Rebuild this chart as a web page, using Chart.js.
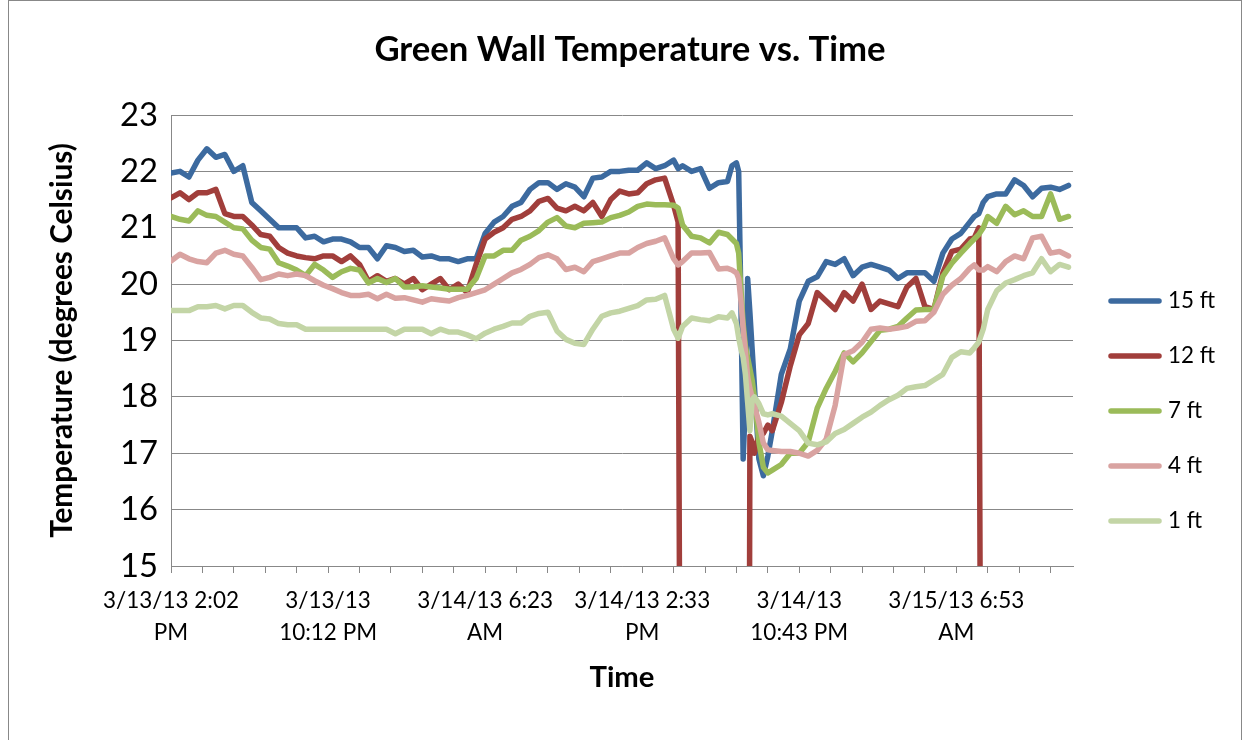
<!DOCTYPE html>
<html><head><meta charset="utf-8">
<script src="https://cdn.jsdelivr.net/npm/chart.js@4.4.1/dist/chart.umd.min.js"></script>
<style>html,body{margin:0;padding:0;background:#fff}</style>
</head><body>
<canvas id="c" width="1250" height="740" style="display:block;width:1250px;height:740px"></canvas>
<script>
// time index: 1 unit = 14 minutes (ticks every 7 units, labels every 35 units)
const timeIndex = [0,2,4,6,8,10,12,14,16,18,20,22,24,26,28,30,32,34,36,38,40,42,44,46,48,50,52,54,56,58,60,62,64,66,68,70,72,74,76,78,80,82,84,86,88,90,92,94,96,98,100,102,104,106,108,110,112,113,114,116,118,120,122,124,125,126,126.5,127,127.5,128,128.5,129,129.5,130,131,132,133,134,136,138,140,142,144,146,148,150,152,154,156,158,160,162,164,166,168,170,172,174,176,178,179,180,181,182,184,186,188,190,192,194,196,198,200];
const tickLabels = [['3/13/13 2:02','PM'],['3/13/13','10:12 PM'],['3/14/13 6:23','AM'],['3/14/13 2:33','PM'],['3/14/13','10:43 PM'],['3/15/13 6:53','AM']];
const chartTitle = 'Green Wall Temperature vs. Time';
const xTitle = 'Time';
const yTitle = 'Temperature (degrees Celsius)';
const seriesNames = ['15 ft','12 ft','7 ft','4 ft','1 ft'];
const ft15 = [21.97,22.0,21.9,22.2,22.4,22.25,22.3,22.0,22.1,21.45,21.3,21.15,21.0,21.0,21.0,20.82,20.85,20.75,20.8,20.8,20.75,20.65,20.65,20.45,20.68,20.65,20.58,20.6,20.48,20.5,20.45,20.45,20.4,20.45,20.45,20.9,21.1,21.2,21.38,21.45,21.68,21.8,21.8,21.68,21.78,21.72,21.55,21.88,21.9,22.0,22.0,22.02,22.02,22.15,22.05,22.1,22.2,22.05,22.1,22.0,22.05,21.7,21.8,21.82,22.1,22.15,22.0,19.7,16.9,17.9,20.1,19.5,18.85,18.2,16.9,16.6,16.95,17.4,18.4,18.85,19.7,20.05,20.13,20.4,20.35,20.45,20.15,20.3,20.35,20.3,20.25,20.1,20.2,20.2,20.2,20.05,20.55,20.8,20.9,21.1,21.2,21.25,21.45,21.55,21.6,21.6,21.85,21.75,21.55,21.7,21.72,21.68,21.75];
const ft12 = [21.53,21.62,21.5,21.62,21.62,21.68,21.25,21.2,21.2,21.05,20.88,20.85,20.65,20.55,20.5,20.47,20.45,20.5,20.5,20.4,20.5,20.35,20.05,20.15,20.05,20.1,20.0,20.1,19.9,20.0,20.1,19.9,20.0,19.85,20.35,20.8,20.92,21.0,21.15,21.2,21.3,21.47,21.52,21.35,21.3,21.38,21.3,21.45,21.2,21.5,21.65,21.6,21.62,21.78,21.85,21.88,21.4,21.1,0,0,0,0,0,0,0,0,0,0,0,0,0,17.3,17.2,17.0,17.3,17.35,17.5,17.4,17.9,18.55,19.1,19.3,19.85,19.7,19.55,19.85,19.7,20.0,19.55,19.7,19.65,19.6,19.95,20.1,19.6,19.55,20.2,20.58,20.62,20.8,20.82,21.0,0,0,0,0,0,0,0,0,0,0,0];
const ft7 = [21.2,21.15,21.12,21.3,21.22,21.2,21.1,21.0,20.98,20.78,20.65,20.62,20.38,20.32,20.25,20.15,20.35,20.25,20.12,20.22,20.28,20.25,20.02,20.1,20.03,20.1,19.95,19.95,19.97,19.95,19.93,19.91,19.91,19.91,20.1,20.5,20.5,20.6,20.6,20.78,20.85,20.95,21.1,21.18,21.03,21.0,21.08,21.09,21.1,21.18,21.22,21.28,21.38,21.42,21.41,21.41,21.4,21.35,21.05,20.85,20.82,20.73,20.92,20.88,20.8,20.72,20.55,19.9,19.3,18.9,18.7,18.5,18.3,18.0,17.2,16.75,16.65,16.7,16.8,17.0,17.0,17.2,17.8,18.15,18.45,18.78,18.62,18.78,18.98,19.18,19.2,19.25,19.4,19.54,19.55,19.55,20.14,20.37,20.55,20.72,20.8,20.88,21.0,21.2,21.08,21.38,21.23,21.3,21.2,21.2,21.6,21.15,21.2];
const ft4 = [20.41,20.53,20.45,20.4,20.38,20.55,20.6,20.53,20.5,20.3,20.08,20.12,20.18,20.15,20.18,20.15,20.06,19.98,19.92,19.85,19.8,19.8,19.82,19.74,19.82,19.75,19.76,19.72,19.68,19.74,19.72,19.7,19.76,19.8,19.85,19.9,20.0,20.1,20.2,20.26,20.35,20.47,20.52,20.45,20.26,20.3,20.22,20.4,20.45,20.5,20.55,20.55,20.65,20.72,20.76,20.82,20.45,20.34,20.4,20.55,20.55,20.56,20.27,20.28,20.25,20.2,20.1,19.7,19.2,18.8,18.35,18.15,18.0,17.85,17.55,17.18,17.06,17.05,17.03,17.03,17.0,16.95,17.05,17.25,17.85,18.75,18.82,18.97,19.2,19.22,19.2,19.22,19.25,19.34,19.35,19.5,19.82,19.98,20.1,20.28,20.34,20.25,20.25,20.31,20.22,20.4,20.5,20.45,20.82,20.85,20.55,20.58,20.5];
const ft1 = [19.53,19.53,19.53,19.6,19.6,19.62,19.56,19.62,19.62,19.5,19.4,19.38,19.3,19.28,19.28,19.2,19.2,19.2,19.2,19.2,19.2,19.2,19.2,19.2,19.2,19.12,19.2,19.2,19.2,19.12,19.2,19.15,19.15,19.1,19.03,19.13,19.2,19.25,19.31,19.31,19.43,19.48,19.5,19.17,19.02,18.95,18.93,19.2,19.43,19.49,19.52,19.57,19.62,19.72,19.73,19.8,19.2,19.04,19.25,19.4,19.37,19.35,19.42,19.4,19.49,19.3,19.05,18.85,18.7,18.4,17.9,17.4,17.95,18.0,17.88,17.7,17.68,17.7,17.66,17.53,17.4,17.18,17.15,17.2,17.35,17.42,17.53,17.64,17.73,17.85,17.95,18.03,18.15,18.18,18.2,18.3,18.4,18.7,18.8,18.78,18.87,18.97,19.2,19.55,19.88,20.02,20.08,20.15,20.2,20.45,20.22,20.35,20.3];
const seriesValues = [ft15, ft12, ft7, ft4, ft1];
const seriesColors = ['#3C6A9F','#A13E3B','#9BBB59','#D9A3A1','#C3D5A6'];
const yMin = 15, yMax = 23, xMax = 201, tickEvery = 7, labelEvery = 35;

const FAMILY = 'Lato, "Open Sans", sans-serif';
const mctx = document.createElement('canvas').getContext('2d');
function fitSize(text, weight, target){ mctx.font = weight + ' 100px ' + FAMILY; return 100*target/mctx.measureText(text).width; }
const titleSize = fitSize(chartTitle,'bold',512);
const yTitleSize = fitSize(yTitle,'bold',395);
const xTitleSize = fitSize(xTitle,'bold',65);
const yTickSize = fitSize('23','normal',38);
const xTickSize = fitSize('3/13/13 2:02','normal',136);
const legendSize = fitSize('15 ft','normal',47);

const AREA = {left:171, right:1073, top:115, bottom:566};
const padLeft = 62 - 0.6*yTitleSize;
const xScaleBottom = 678 + 0.6*xTitleSize;

const frame = {
  id:'frame',
  beforeDraw(chart){ const c=chart.ctx; c.save(); c.fillStyle='#fff'; c.fillRect(0,0,chart.width,chart.height); c.restore(); },
  afterDraw(chart){
    const c = chart.ctx; c.save();
    c.strokeStyle='#888'; c.lineWidth=1; c.strokeRect(8.5,0.5,1233,760);
    c.fillStyle='#000'; c.textAlign='center'; c.textBaseline='middle';
    c.font = 'bold '+titleSize.toFixed(1)+'px '+FAMILY;
    c.fillText(chartTitle, 630, 50);
    chart.data.datasets.forEach((ds,i)=>{
      const y = 301 + i*55;
      c.strokeStyle = ds.borderColor; c.lineWidth = 5.5; c.lineCap='round';
      c.beginPath(); c.moveTo(1111,y); c.lineTo(1159,y); c.stroke();
      c.fillStyle='#000'; c.font = legendSize.toFixed(1)+'px '+FAMILY; c.textBaseline='middle'; c.textAlign='left';
      c.fillText(ds.label, 1168, y);
    });
    c.restore();
  }
};

new Chart(document.getElementById('c'), {
  type:'line',
  data:{ datasets: seriesNames.map((n,i)=>({
    label:n,
    data: timeIndex.map((x,j)=>({x:x, y:seriesValues[i][j]})),
    borderColor: seriesColors[i], backgroundColor: seriesColors[i],
    borderWidth:5.5, pointRadius:0, tension:0, borderJoinStyle:'round', borderCapStyle:'round',
    order: 5-i
  }))},
  options:{
    responsive:false, animation:false, devicePixelRatio:1,
    layout:{ padding:{ left:padLeft, right:1250-AREA.right, top:AREA.top, bottom:740-xScaleBottom } },
    plugins:{ legend:{display:false}, tooltip:{enabled:false}, title:{display:false} },
    scales:{
      x:{ type:'linear', min:0, max:xMax,
        afterFit(s){ s.height = xScaleBottom - AREA.bottom; },
        afterBuildTicks(s){ const t=[]; for(let v=0; v<=xMax; v+=tickEvery) t.push({value:v}); s.ticks=t; },
        ticks:{ autoSkip:false, maxRotation:0, minRotation:0, padding:12, color:'#000',
          font:{family:FAMILY, size:xTickSize, lineHeight:'32px'},
          callback(v){ return (v % labelEvery === 0) ? tickLabels[v/labelEvery] : ''; } },
        grid:{ drawOnChartArea:false, drawTicks:true, tickLength:7, color:'#888', lineWidth:1 },
        border:{ display:true, color:'#888', width:1 },
        title:{ display:true, text:xTitle, color:'#000', padding:0,
          font:{family:FAMILY, size:xTitleSize, weight:'bold', lineHeight:1.2} }
      },
      y:{ min:yMin, max:yMax,
        afterFit(s){ s.width = AREA.left - padLeft; },
        ticks:{ stepSize:1, padding:13, color:'#000', font:{family:FAMILY, size:yTickSize} },
        grid:{ drawTicks:false, color:'#888', lineWidth:1 },
        border:{ display:true, color:'#888', width:1 },
        title:{ display:true, text:yTitle, color:'#000', padding:0,
          font:{family:FAMILY, size:yTitleSize, weight:'bold', lineHeight:1.2} }
      }
    }
  },
  plugins:[frame]
});
</script>
</body></html>
